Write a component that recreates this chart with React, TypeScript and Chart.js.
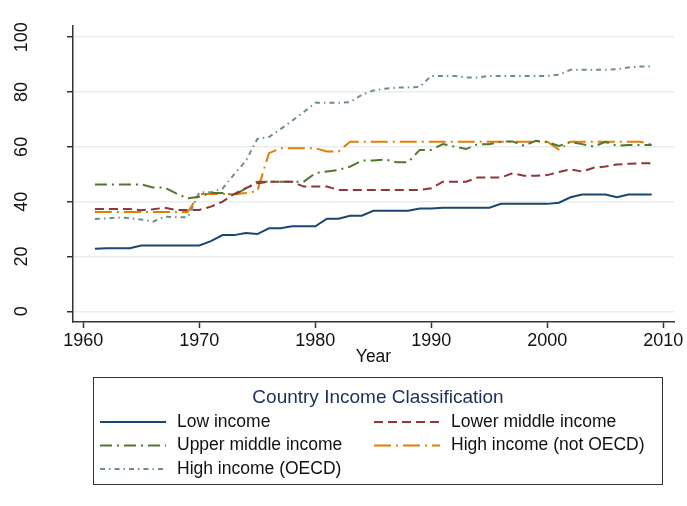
import { useEffect, useRef } from "react";
import { Chart, registerables } from "chart.js";

Chart.register(...registerables);

const years = [
  1961, 1962, 1963, 1964, 1965, 1966, 1967, 1968, 1969, 1970,
  1971, 1972, 1973, 1974, 1975, 1976, 1977, 1978, 1979, 1980,
  1981, 1982, 1983, 1984, 1985, 1986, 1987, 1988, 1989, 1990,
  1991, 1992, 1993, 1994, 1995, 1996, 1997, 1998, 1999, 2000,
  2001, 2002, 2003, 2004, 2005, 2006, 2007, 2008, 2009,
];

const lowIncome = [
  22.8, 23.0, 23.0, 23.0, 24.0, 24.0, 24.0, 24.0, 24.0, 24.0,
  25.6, 27.8, 27.8, 28.6, 28.2, 30.3, 30.3, 31.0, 31.0, 31.0,
  33.8, 33.8, 34.9, 34.9, 36.7, 36.7, 36.7, 36.7, 37.5, 37.5,
  37.8, 37.8, 37.8, 37.8, 37.8, 39.2, 39.2, 39.2, 39.2, 39.2,
  39.6, 41.6, 42.6, 42.6, 42.6, 41.6, 42.6, 42.6, 42.6,
];

const lowerMiddleIncome = [
  37.3, 37.3, 37.3, 37.3, 36.9, 37.2, 37.8, 37.0, 37.0, 37.0,
  38.2, 40.0, 42.8, 44.9, 46.7, 47.3, 47.3, 47.3, 45.5, 45.5,
  45.5, 44.3, 44.3, 44.3, 44.3, 44.3, 44.3, 44.3, 44.3, 44.9,
  47.3, 47.3, 47.3, 48.8, 48.8, 48.8, 50.4, 49.5, 49.5, 49.7,
  50.8, 51.8, 51.0, 52.4, 52.8, 53.6, 53.8, 54.0, 54.0,
];

const upperMiddleIncome = [
  46.3, 46.3, 46.3, 46.3, 46.3, 45.2, 45.2, 43.0, 41.2, 41.8,
  43.2, 43.2, 42.4, 44.8, 47.3, 47.3, 47.3, 47.3, 47.3, 50.4,
  51.0, 51.6, 52.8, 55.0, 55.0, 55.4, 54.4, 54.4, 58.9, 58.9,
  61.0, 60.1, 59.2, 61.0, 61.0, 61.9, 62.0, 60.4, 62.2, 61.8,
  60.3, 61.8, 61.0, 60.1, 61.8, 60.4, 60.7, 60.7, 60.7,
];

const highIncomeNonOECD = [
  36.2, 36.2, 36.2, 36.2, 36.2, 36.2, 36.2, 36.2, 36.2, 42.8,
  42.8, 42.8, 42.7, 43.2, 43.9, 57.7, 59.5, 59.5, 59.5, 59.5,
  58.3, 58.3, 61.9, 61.9, 61.9, 61.9, 61.9, 61.9, 61.9, 61.9,
  61.9, 61.9, 61.9, 61.9, 61.9, 61.9, 61.9, 61.9, 61.9, 61.9,
  59.0, 61.9, 61.9, 61.9, 61.9, 61.9, 61.9, 61.9, 60.9,
];

const highIncomeOECD = [
  33.7, 33.9, 34.2, 34.0, 33.5, 32.7, 34.5, 34.3, 34.3, 43.4,
  43.4, 44.8, 50.0, 54.8, 62.9, 63.6, 66.5, 69.5, 72.7, 76.1,
  76.1, 76.1, 76.3, 79.0, 80.6, 81.2, 81.6, 81.7, 81.9, 85.9,
  85.9, 85.9, 85.3, 85.3, 85.9, 85.9, 85.9, 85.9, 85.9, 85.9,
  86.3, 88.1, 88.1, 88.1, 88.1, 88.3, 89.0, 89.3, 89.3,
];

const seriesLabels = [
  "Low income",
  "Lower middle income",
  "Upper middle income",
  "High income (not OECD)",
  "High income (OECD)",
];

const xTicks = [1960, 1970, 1980, 1990, 2000, 2010];
const yTicks = [0, 20, 40, 60, 80, 100];
const xTitle = "Year";
const legendTitle = "Country Income Classification";

const FONT = '"Liberation Sans", Arial, Helvetica, sans-serif';

const seriesValues = [lowIncome, lowerMiddleIncome, upperMiddleIncome, highIncomeNonOECD, highIncomeOECD];
const seriesColors = ["#1a476f", "#90353b", "#55752f", "#e37e00", "#6e8e84"];
const seriesDashes: number[][] = [[], [9, 5], [12, 5, 2, 5], [17, 5, 2, 5], [5, 4, 1.5, 4]];

const legendPlugin = {
  id: "stataLegend",
  afterDraw(chart: any) {
    const ctx = chart.ctx as CanvasRenderingContext2D;
    ctx.save();
    ctx.setLineDash([]);
    ctx.strokeStyle = "#333";
    ctx.lineWidth = 1;
    ctx.strokeRect(93.5, 377.5, 569, 107);
    ctx.fillStyle = "#1f2d5a";
    ctx.font = `19px ${FONT}`;
    ctx.textAlign = "center";
    ctx.textBaseline = "middle";
    ctx.fillText(legendTitle, 378, 398);
    chart.data.datasets.forEach((ds: any, i: number) => {
      const col = i % 2;
      const row = Math.floor(i / 2);
      const lx = col === 0 ? 100 : 374;
      const ly = 422 + row * 23.5;
      ctx.strokeStyle = ds.borderColor;
      ctx.lineWidth = 2;
      ctx.setLineDash(ds.borderDash || []);
      ctx.beginPath();
      ctx.moveTo(lx, ly);
      ctx.lineTo(lx + 66, ly);
      ctx.stroke();
      ctx.setLineDash([]);
      ctx.fillStyle = "#111";
      ctx.font = `17.5px ${FONT}`;
      ctx.textAlign = "left";
      ctx.fillText(ds.label, lx + 77, ly);
    });
    ctx.restore();
  },
};

export default function App() {
  const ref = useRef<HTMLCanvasElement>(null);

  useEffect(() => {
    const canvas = ref.current!;
    const chart = new Chart(canvas, {
      type: "line",
      data: {
        datasets: seriesValues.map((vals, i) => ({
          label: seriesLabels[i],
          data: years.map((yr, j) => ({ x: yr, y: vals[j] })),
          borderColor: seriesColors[i],
          backgroundColor: seriesColors[i],
          borderDash: seriesDashes[i],
          borderWidth: 2,
          pointRadius: 0,
          tension: 0,
          fill: false,
        })),
      },
      options: {
        animation: false,
        responsive: true,
        maintainAspectRatio: false,
        layout: { padding: { top: 26, right: 13, bottom: 138, left: 0 } },
        plugins: { legend: { display: false }, tooltip: { enabled: false } },
        scales: {
          x: {
            type: "linear",
            min: 1959.11,
            max: 2010.92,
            afterBuildTicks: (s: any) => {
              s.ticks = xTicks.map((v) => ({ value: v }));
            },
            afterFit: (s: any) => {
              s.height = 46;
              s.paddingLeft = 0;
              s.paddingRight = 0;
            },
            grid: {
              drawOnChartArea: false,
              drawTicks: true,
              tickLength: 6,
              tickColor: "#333",
              tickWidth: 1.5,
            },
            border: { color: "#333", width: 1.5 },
            ticks: {
              maxRotation: 0,
              minRotation: 0,
              padding: 2,
              color: "#111",
              font: { family: FONT, size: 18 },
              callback: (v: any) => String(v),
            },
            title: {
              display: true,
              text: xTitle,
              color: "#111",
              font: { family: FONT, size: 17.5 },
              padding: { top: 0, bottom: 0 },
            },
          },
          y: {
            type: "linear",
            min: -3.9,
            max: 104.1,
            afterBuildTicks: (s: any) => {
              s.ticks = yTicks.map((v) => ({ value: v }));
            },
            afterFit: (s: any) => {
              s.width = 73;
              s.paddingTop = 0;
              s.paddingBottom = 0;
            },
            grid: {
              color: "#e6eef0",
              lineWidth: 1.5,
              drawTicks: true,
              tickLength: 6,
              tickColor: "#333",
              tickWidth: 1.5,
            },
            border: { color: "#333", width: 1.5 },
            ticks: {
              minRotation: 90,
              maxRotation: 90,
              crossAlign: "center",
              padding: 30,
              color: "#111",
              font: { family: FONT, size: 18 },
              callback: (v: any) => String(v),
            },
          },
        },
      },
      plugins: [legendPlugin],
    });
    return () => chart.destroy();
  }, []);

  return (
    <div
      style={{
        position: "fixed",
        left: 0,
        top: 0,
        width: 687,
        height: 506,
        background: "#fff",
      }}
    >
      <canvas ref={ref} />
    </div>
  );
}
